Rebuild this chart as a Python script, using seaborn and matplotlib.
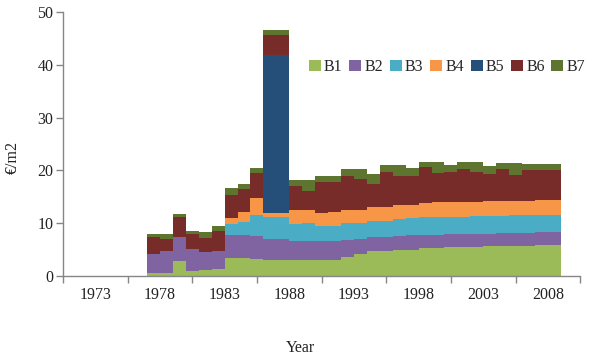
import pandas as pd
import seaborn as sns
import matplotlib.pyplot as plt
from matplotlib.patches import Patch

# values (euro per m2), one entry per year 1978-2009
years = list(range(1978, 2010))
b1 = [0.5, 0.6, 2.9, 0.9, 1.1, 1.4, 3.4, 3.4, 3.2, 3.05,
      3.05, 3.05, 3.05, 3.05, 3.1, 3.55, 4.2, 4.65, 4.7, 4.95,
      5.0, 5.35, 5.4, 5.45, 5.5, 5.55, 5.6, 5.65, 5.7, 5.75, 5.8, 5.85]
b2 = [3.6, 4.2, 4.4, 4.2, 3.5, 3.4, 4.3, 4.4, 4.3, 3.95,
      3.95, 3.55, 3.5, 3.5, 3.5, 3.3, 2.8, 2.7, 2.7, 2.65,
      2.7, 2.45, 2.45, 2.45, 2.45, 2.45, 2.45, 2.45, 2.45, 2.45, 2.45, 2.45]
b3 = [0, 0, 0, 0, 0, 0, 2.2, 2.4, 4.1, 4.2,
      4.2, 3.2, 3.45, 2.85, 2.9, 3.2, 3.1, 3.0, 3.0, 3.2,
      3.2, 3.3, 3.3, 3.3, 3.3, 3.3, 3.3, 3.3, 3.35, 3.35, 3.35, 3.35]
b4 = [0, 0, 0, 0, 0, 0, 1.1, 1.9, 3.2, 0.7,
      0.7, 2.7, 2.45, 2.55, 2.6, 2.55, 2.5, 2.75, 2.7, 2.65,
      2.65, 2.8, 2.8, 2.8, 2.8, 2.8, 2.8, 2.8, 2.75, 2.75, 2.8, 2.8]
b5 = [0, 0, 0, 0, 0, 0, 0, 0, 0, 30.0,
      30.0, 0, 0, 0, 0, 0, 0, 0, 0, 0,
      0, 0, 0, 0, 0, 0, 0, 0, 0, 0, 0, 0]
b6 = [3.3, 2.2, 3.8, 2.8, 2.6, 3.8, 4.4, 4.3, 4.8, 3.8,
      3.8, 4.65, 3.6, 5.85, 5.7, 6.35, 5.8, 4.25, 6.6, 5.45,
      5.35, 6.8, 5.55, 5.7, 6.25, 5.7, 5.25, 6.1, 4.95, 5.75, 5.6, 5.55]
b7 = [0.6, 0.9, 0.7, 0.7, 1.2, 0.8, 1.2, 1.1, 0.9, 1.0,
      1.0, 1.0, 2.1, 1.15, 1.1, 1.25, 1.8, 2.05, 1.25, 2.05,
      1.5, 0.95, 2.15, 1.3, 1.3, 1.8, 1.4, 1.2, 2.25, 1.25, 1.2, 1.2]

series_names = ['B1', 'B2', 'B3', 'B4', 'B5', 'B6', 'B7']
colors = ['#9BBB59', '#8064A2', '#4BACC6', '#F79646', '#254E79', '#772C2A', '#5E7530']
tick_labels = ['1973', '1978', '1983', '1988', '1993', '1998', '2003', '2008']

frames = []
for name, vals in zip(series_names, [b1, b2, b3, b4, b5, b6, b7]):
    frames.append(pd.DataFrame({'year': years, 'value': vals, 'series': name}))
df = pd.concat(frames, ignore_index=True)

sns.set_style('white')
plt.rcParams['font.family'] = ['Liberation Serif', 'DejaVu Serif']

fig = plt.figure(figsize=(6.0, 3.58), dpi=100)
ax = fig.add_axes([0.105, 0.229, 0.862, 0.737])

palette = dict(zip(series_names, colors))
# seaborn puts the first hue level on top of the stack, so reverse
sns.histplot(data=df, x='year', weights='value', hue='series',
             hue_order=series_names[::-1], palette=palette,
             multiple='stack', discrete=True, shrink=1, alpha=1,
             linewidth=0, legend=False, ax=ax)

ax.set_xlim(1971, 2011)
ax.set_ylim(0, 50)
ax.set_yticks([0, 10, 20, 30, 40, 50])
ax.set_xticks([1971 + 5 * k for k in range(9)])
ax.set_xticklabels([])
ax.set_xticks([int(t) + 0.5 for t in tick_labels], minor=True)
ax.set_xticklabels(tick_labels, minor=True)
ax.tick_params(axis='x', which='minor', length=0, pad=8, labelsize=11.5, labelcolor='#222222')
ax.tick_params(axis='x', which='major', direction='out', length=5, width=1, color='#868686', bottom=True)
ax.tick_params(axis='y', direction='out', length=5, width=1, color='#868686', left=True,
               labelsize=11.5, labelcolor='#222222', pad=2)
ax.set_xlabel('')
ax.set_ylabel('')

for side in ['top', 'right']:
    ax.spines[side].set_visible(False)
for side in ['left', 'bottom']:
    ax.spines[side].set_color('#868686')
    ax.spines[side].set_linewidth(1)

fig.text(0.022, 0.56, '€/m2', rotation=90, ha='center', va='center', fontsize=11.5, color='#222222')
fig.text(0.5, 0.027, 'Year', ha='center', va='center', fontsize=11.5, color='#222222')

handles = [Patch(facecolor=c, edgecolor='none', label=n) for n, c in zip(series_names, colors)]
fig.legend(handles=handles, loc='center right', bbox_to_anchor=(0.986, 0.813), ncol=7,
           frameon=False, fontsize=11.5, handlelength=0.75, handleheight=0.75,
           handletextpad=0.2, columnspacing=0.42, borderaxespad=0)

fig.savefig('out.png', dpi=100, facecolor='white')
